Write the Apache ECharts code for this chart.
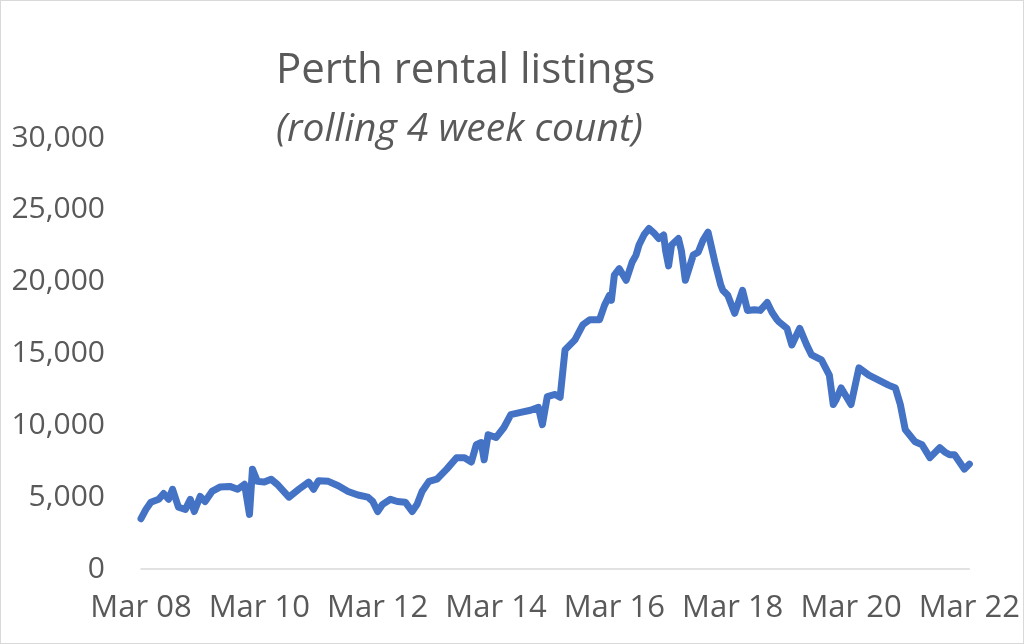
<!DOCTYPE html><html><head><meta charset="utf-8"><script src="https://cdn.jsdelivr.net/npm/echarts@6/dist/echarts.min.js"></script>
<style>html,body{margin:0;padding:0;background:#fff}#c{width:1024px;height:644px;box-sizing:border-box;border:1px solid #d9d9d9}</style></head><body><div id="c"></div><script>
// months since Mar 2008
const months=[0,1,2,3.6,4.6,5.6,6.4,7.6,9,10,10.8,12,13,14.4,16,18,19.6,21,22,22.6,23.6,25,26.4,27.6,30,32,34,35,36,38,40,42,44,46,47,48,49,50.6,52,53.6,55,56,57,58.4,60,62,64,65.6,67,68,69,69.6,70.4,72,73.6,75,77,79,80.6,81.4,82.4,84,85,86,88,89.6,91,93,94,95,95.4,96,97,98.4,99.6,100.4,101,102,103,104,105,106,106.4,107,107.6,109,109.6,110.4,112,113,114,115,116.4,117.6,118,119,120.4,122,123,124.4,125.6,127,128,129,129.4,131,132,133.6,135,136,138,139.6,140.4,141,142,144,145.6,147.6,151.6,153,154,155,157,158.4,160,162,163,164,165,166,167,168];
const listings=[3500,4150,4650,4850,5250,4850,5550,4300,4150,4850,4000,5050,4700,5400,5700,5750,5550,5900,3800,6950,6100,6050,6250,5900,5000,5550,6050,5550,6150,6100,5800,5400,5150,5000,4700,4000,4500,4850,4700,4650,4000,4500,5400,6100,6250,6950,7750,7750,7450,8650,8800,7600,9350,9150,9850,10750,10900,11050,11250,10050,12000,12150,11950,15250,15950,17000,17350,17350,18350,19050,18700,20450,20900,20100,21350,21850,22550,23250,23700,23400,23000,23250,22150,21100,22550,23000,22150,20100,21850,22050,22900,23450,21350,19750,19400,19050,17800,19400,18000,18050,18000,18550,17850,17350,17200,16750,15600,16750,15600,14900,14550,13500,11450,11800,12600,11450,14000,13500,12800,12600,11450,9700,8850,8650,7750,8450,8150,7950,7950,7450,6950,7300,6900,7200,6100,7250,7100];
const xTicks=['Mar 08','Mar 10','Mar 12','Mar 14','Mar 16','Mar 18','Mar 20','Mar 22'];
const data=months.map((m,i)=>[m,listings[i]]);
const ch=echarts.init(document.getElementById('c'));
const font='"Open Sans","Noto Sans",sans-serif';
ch.setOption({animation:false,
title:{text:'Perth rental listings',subtext:'(rolling 4 week count)',left:270,top:44,itemGap:18,
textStyle:{fontFamily:font,fontSize:42,fontWeight:'normal',color:'#595959'},
subtextStyle:{fontFamily:font,fontSize:39,fontStyle:'italic',color:'#595959'}},
grid:{left:140,right:44,top:137,bottom:74},
xAxis:{type:'value',min:0,max:168,interval:24,axisLine:{lineStyle:{color:'#d9d9d9',width:1.5}},axisTick:{show:false},splitLine:{show:false},
axisLabel:{fontFamily:font,fontSize:31,color:'#595959',margin:24,formatter:v=>xTicks[Math.round(v/24)]}},
yAxis:{type:'value',min:0,max:30000,interval:5000,axisLine:{show:false},axisTick:{show:false},splitLine:{show:false},
axisLabel:{fontFamily:font,fontSize:30,color:'#595959',margin:36,formatter:v=>v.toLocaleString('en-US')}},
series:[{type:'line',data:data,showSymbol:false,lineStyle:{color:'#4472C4',width:7,cap:'round',join:'round'}}]});
</script></body></html>
